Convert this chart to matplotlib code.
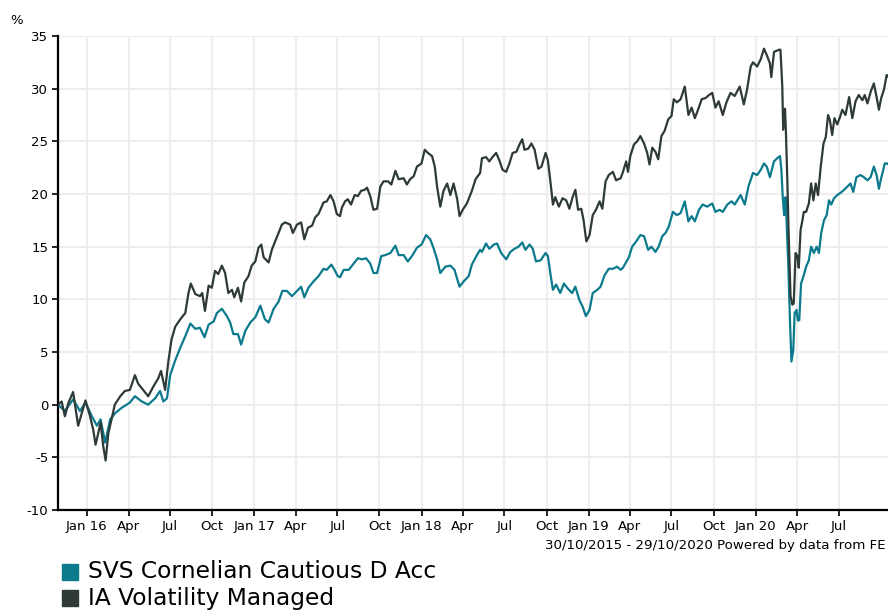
import matplotlib
matplotlib.use("Agg")
import matplotlib.pyplot as plt
import numpy as np
import pandas as pd
from matplotlib.patches import Rectangle

plt.rcParams["axes.unicode_minus"] = False

# days after 30/10/2015, cumulative % return
ia_days = [0, 8, 15, 23, 33, 44, 52, 60, 70, 77, 82, 88, 93, 99, 104, 110, 117, 124, 136, 146,
           157, 168, 175, 186, 197, 208, 219, 225, 234, 241, 248, 256, 267, 278, 285, 290,
           300, 310, 315, 321, 329, 336, 343, 350, 358, 365, 372, 380, 385, 393, 400, 407, 416,
           423, 431, 438, 444, 449, 460, 467, 478, 489, 496, 507, 513, 522, 531, 538, 546, 555,
           562, 569, 580, 587, 595, 602, 609, 616,
           620, 627, 633, 640, 648, 655, 662, 670, 675, 682, 689, 697, 704, 711, 721, 728, 737,
           744, 755, 762, 769, 777, 784, 794, 801, 808, 817, 823, 828, 835, 842, 850, 857, 864,
           872, 877, 884, 893, 904, 912, 922,
           926, 935, 942, 949, 957, 964, 971, 979, 986, 993, 1001, 1008, 1014, 1019, 1027, 1034,
           1041, 1049, 1056, 1065, 1070, 1076, 1081, 1086, 1094, 1102, 1110, 1117, 1124, 1130,
           1136, 1143, 1148, 1154, 1161, 1168, 1175, 1183, 1189, 1196, 1203, 1212, 1219, 1229,
           1234, 1241, 1245, 1250, 1258, 1265, 1272, 1280, 1287, 1292, 1298, 1305, 1311, 1318,
           1325, 1333, 1340, 1345, 1352, 1360, 1369, 1377, 1384, 1391, 1398, 1406, 1414, 1422,
           1429, 1436, 1443, 1452, 1460, 1469, 1478, 1489, 1498, 1505, 1513, 1518, 1527, 1535,
           1542, 1548, 1555, 1558, 1564, 1570, 1575, 1578, 1582, 1584, 1588, 1590, 1593, 1596,
           1600, 1604, 1607, 1611, 1615, 1618, 1622, 1626, 1629, 1634, 1640, 1645, 1650, 1655,
           1660, 1666, 1672, 1677, 1682, 1686, 1691, 1696, 1702, 1708, 1713, 1720, 1728, 1735,
           1742, 1749, 1757, 1762, 1768, 1775, 1782, 1788, 1793, 1798, 1804, 1810, 1814, 1826]
ia_vals = [0.0, 0.3, -1.1, 0.2, 1.2, -2.0, -0.8, 0.4, -1.1, -2.4, -3.8, -2.7, -1.7, -4.0, -5.3,
           -2.7, -1.4, 0.0, 0.8, 1.3, 1.4, 2.8, 2.0, 1.4, 0.8, 1.7, 2.5, 3.2, 1.4, 4.1, 6.2, 7.4,
           8.1, 8.7, 10.6, 11.5,
           10.5, 10.3, 10.6, 8.9, 11.3, 11.1, 12.7, 12.4, 13.2, 12.5, 10.6, 10.9, 10.2, 11.1, 9.8,
           11.6, 12.2, 13.2, 13.6, 14.9, 15.2, 14.0, 13.5, 14.7, 15.9, 17.1, 17.3, 17.1, 16.3,
           17.1, 17.3, 15.7, 16.8, 17.0, 17.8, 18.1, 19.2, 19.3, 19.9, 19.3, 18.1, 17.9,
           18.7, 19.3, 19.5, 19.0, 19.9, 19.8, 20.3, 20.4, 20.6, 19.8, 18.5, 18.6, 20.7, 21.2,
           21.2, 20.9, 22.2, 21.4, 21.5, 20.9, 21.4, 21.7, 22.6, 22.9, 24.2, 23.9, 23.6, 22.6,
           20.7, 18.8, 20.3, 21.0, 19.9, 21.0, 19.5, 17.9, 18.5, 19.1, 20.3, 21.4, 22.0,
           23.4, 23.5, 23.1, 23.5, 23.9, 23.2, 22.3, 22.1, 22.9, 23.9, 24.0, 24.7, 25.2, 24.2,
           24.3, 24.8, 24.2, 22.4, 22.6, 23.9, 23.2, 21.0, 19.0, 19.7, 18.8, 19.6, 19.4, 18.6,
           19.7, 20.4, 18.5, 18.6, 17.5, 15.5, 16.1, 18.0, 18.5, 19.3, 18.6, 21.2, 21.8, 22.1,
           21.3, 21.5,
           22.1, 23.1, 22.1, 23.6, 24.7, 25.0, 25.5, 24.8, 23.9, 22.8, 24.4, 24.0, 23.3, 25.5,
           26.0, 27.1, 27.4, 29.0, 28.7, 29.0, 30.2, 27.5, 28.2, 27.2, 28.0, 29.0, 29.1, 29.4,
           29.6, 28.2, 28.8, 27.5, 28.7, 29.6, 29.3, 30.2, 28.5, 29.9, 32.1, 32.5, 32.1, 32.8,
           33.8, 33.2, 32.4, 31.1, 33.5, 33.6, 33.7, 33.7, 30.2, 26.1, 28.1, 25.8, 21.3, 16.0,
           10.3, 9.5, 9.6, 14.4, 14.1, 13.0, 16.6, 17.5, 18.3, 18.3, 19.1, 21.0, 19.4, 21.0,
           19.9, 22.6, 24.8, 25.4, 27.5, 27.0, 25.6, 27.2, 26.6, 27.3, 28.0, 27.5, 29.2, 27.2,
           28.8, 29.4, 28.9, 29.4, 28.6, 29.7, 30.5, 29.2, 28.0, 29.1, 29.9, 31.3, 31.1, 31.0]

svs_days = [0, 15, 33, 48, 60, 74, 85, 93, 103, 114, 125, 139, 157, 168, 183, 197, 212, 223,
            230, 238, 245, 256, 267, 278, 289,
            300, 310, 320, 329, 340, 347, 358, 369, 376, 383, 393, 400, 409, 420, 431, 442, 452,
            460, 471, 482, 490, 500, 511, 522, 531, 538, 547, 558, 569, 580, 587, 597, 604, 611,
            616,
            624, 635, 646, 655, 664, 673, 682, 689, 697, 706, 715, 726, 737, 744, 755, 764, 773,
            784, 794, 804, 813, 820, 828, 835, 846, 857, 866, 877, 886, 897, 904, 915, 922,
            926, 935, 942, 952, 959, 968, 979, 988, 997, 1006, 1014, 1021, 1030, 1037, 1044,
            1054, 1065, 1070, 1076, 1081, 1088, 1097, 1105, 1114, 1123, 1130, 1139, 1146, 1153,
            1161, 1168, 1178, 1185, 1194, 1203, 1212, 1221, 1229,
            1234, 1247, 1254, 1263, 1272, 1280, 1289, 1296, 1305, 1312, 1320, 1327, 1334, 1343,
            1352, 1360, 1369, 1377, 1384, 1391, 1400, 1408, 1418, 1429, 1436, 1445, 1452, 1462,
            1471, 1478, 1491, 1500, 1508, 1518, 1527, 1535,
            1542, 1548, 1555, 1564, 1571, 1577, 1580, 1583, 1586, 1589, 1591, 1595, 1599, 1602,
            1606, 1609, 1613, 1616, 1619, 1623, 1629, 1634, 1640, 1645, 1651, 1657, 1662, 1667,
            1673, 1679, 1684, 1689, 1695, 1702, 1709, 1717, 1724, 1731, 1737, 1744, 1753, 1760,
            1768, 1775, 1782, 1788, 1793, 1798, 1806, 1811, 1814, 1826]
svs_vals = [0.0, -0.6, 0.5, -0.6, 0.2, -1.1, -2.0, -1.4, -3.6, -1.4, -0.8, -0.3, 0.2, 0.8, 0.3,
            0.0, 0.6, 1.3, 0.3, 0.6, 2.8, 4.2, 5.4, 6.5, 7.7,
            7.2, 7.3, 6.4, 7.6, 7.9, 8.7, 9.1, 8.4, 7.8, 6.7, 6.7, 5.7, 7.0, 7.8, 8.3, 9.4, 8.1,
            7.8, 9.1, 9.8, 10.8, 10.8, 10.3, 10.8, 11.2, 10.2, 11.1, 11.7, 12.2, 12.9, 12.8,
            13.3, 12.8, 12.2, 12.1,
            12.8, 12.8, 13.4, 13.9, 13.8, 13.9, 13.4, 12.5, 12.5, 14.1, 14.2, 14.4, 15.1, 14.2,
            14.2, 13.6, 14.1, 14.9, 15.2, 16.1, 15.7, 14.9, 13.8, 12.5, 13.1, 13.2, 12.8, 11.2,
            11.7, 12.2, 13.3, 14.2, 14.7,
            14.5, 15.3, 14.8, 15.2, 15.3, 14.4, 13.8, 14.5, 14.8, 15.0, 15.4, 14.7, 15.2, 14.8,
            13.6, 13.7, 14.4, 14.1, 12.3, 10.9, 11.4, 10.6, 11.5, 11.0, 10.6, 11.2, 9.9, 9.3,
            8.4, 9.0, 10.6, 10.9, 11.2, 12.3, 12.9, 12.9, 13.1, 12.8,
            13.0, 14.0, 15.0, 15.5, 16.1, 16.0, 14.7, 15.0, 14.5, 15.0, 16.0, 16.3, 16.9, 18.3,
            18.0, 18.2, 19.3, 17.4, 17.9, 17.4, 18.5, 19.0, 18.8, 19.1, 18.3, 18.5, 18.3, 19.0,
            19.3, 19.0, 19.9, 19.0, 20.7, 22.0, 21.8, 22.3,
            22.9, 22.6, 21.6, 23.1, 23.4, 23.6, 22.3, 19.7, 18.0, 19.7, 17.8, 13.4, 7.7, 4.1,
            5.2, 8.7, 9.0, 8.0, 8.0, 11.5, 12.3, 13.1, 13.7, 15.0, 14.4, 15.0, 14.4, 16.3, 17.5,
            18.0, 19.4, 19.0, 19.6, 19.9, 20.1, 20.4, 20.7, 21.0, 20.2, 21.6, 21.8, 21.6, 21.3,
            21.6, 22.6, 21.8, 20.5, 21.5, 22.9, 22.9, 22.8, 22.8]

names = ["SVS Cornelian Cautious D Acc", "IA Volatility Managed"]
teal = "#0b7a8c"
dark = "#2e3a37"

start = pd.Timestamp("2015-10-30")
end = pd.Timestamp("2020-10-29")
ia_dates = start + pd.to_timedelta(ia_days, unit="D")
svs_dates = start + pd.to_timedelta(svs_days, unit="D")

fig = plt.figure(figsize=(8.88, 6.10), dpi=100)
ax = fig.add_axes([58 / 888, 100 / 610, (894 - 58) / 888, 474 / 610])

ax.plot(svs_dates, svs_vals, color=teal, linewidth=1.6, zorder=3)
ax.plot(ia_dates, ia_vals, color=dark, linewidth=1.6, zorder=4)

ax.set_xlim(start, end)
ax.set_ylim(-10, 35)
ax.set_yticks(np.arange(-10, 36, 5))

ticks = pd.date_range("2016-01-01", "2020-07-01", freq="QS")
labels = [t.strftime("Jan %y") if t.month == 1 else t.strftime("%b") for t in ticks]
ax.set_xticks(ticks)
ax.set_xticklabels(labels)

ax.grid(True, color="#eeeeee", linewidth=1.5, zorder=0)
ax.set_axisbelow(True)
for s in ["top", "right"]:
    ax.spines[s].set_visible(False)
for s in ["left", "bottom"]:
    ax.spines[s].set_linewidth(1.6)
    ax.spines[s].set_color("black")
ax.tick_params(axis="both", length=4, width=1.2, labelsize=9.5, colors="black", pad=3)

fig.text(10 / 888, 1 - 20 / 610, "%", fontsize=9.5, va="center")
fig.text(886 / 888, 1 - 545 / 610, "30/10/2015 - 29/10/2020 Powered by data from FE",
         fontsize=9.6, va="center", ha="right")

for i, (name, col) in enumerate(zip(names, [teal, dark])):
    yc = 572 + 26 * i
    fig.patches.append(Rectangle((62 / 888, 1 - (yc + 8) / 610), 16 / 888, 16 / 610,
                                 transform=fig.transFigure, color=col))
    fig.text(88 / 888, 1 - yc / 610, name, fontsize=16.8, va="center")

fig.savefig("out.png", dpi=100)
